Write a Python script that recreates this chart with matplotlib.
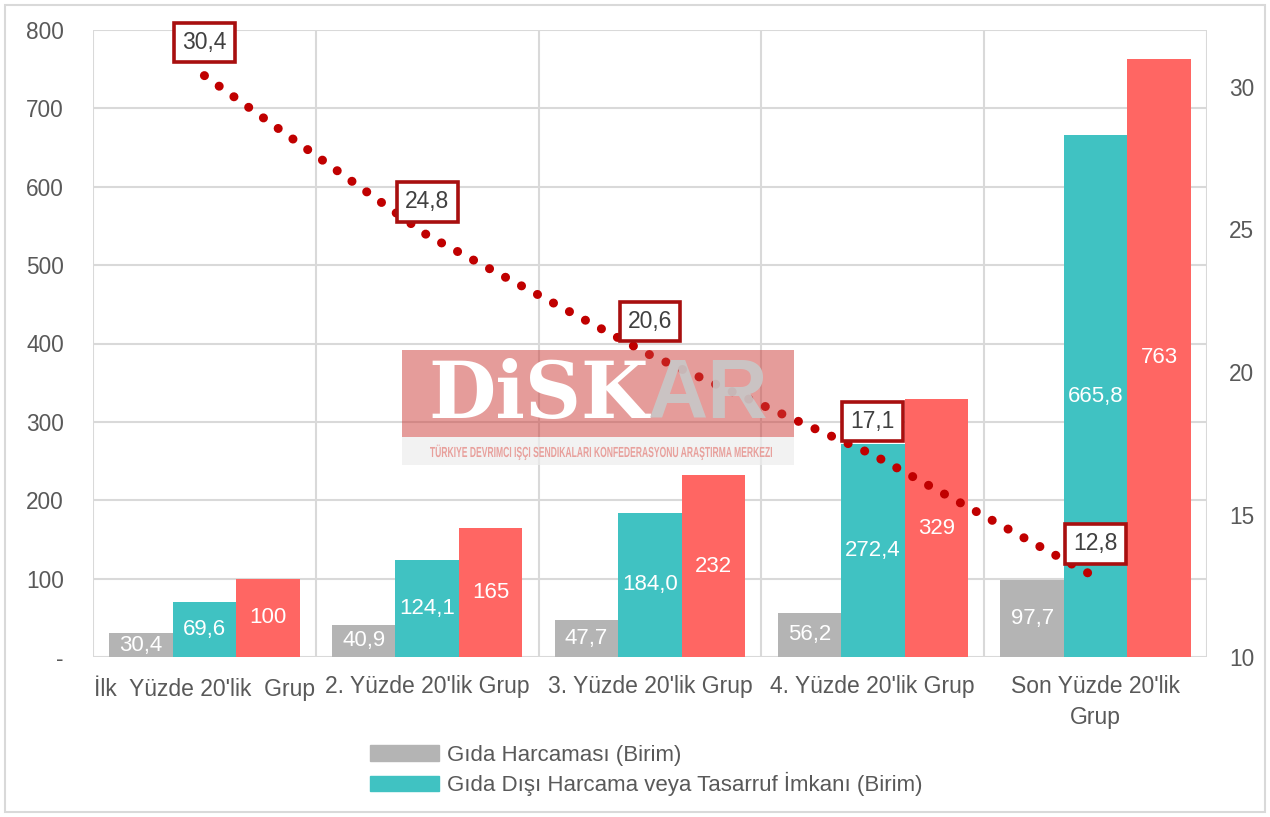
import matplotlib
matplotlib.use("Agg")
import matplotlib.pyplot as plt
import numpy as np
from matplotlib.patches import Rectangle, Patch, PathPatch
from matplotlib.textpath import TextPath
from matplotlib.font_manager import FontProperties
from matplotlib.transforms import Affine2D

plt.rcParams["font.family"] = ["Liberation Sans", "DejaVu Sans"]

categories = ["İlk  Yüzde 20'lik  Grup", "2. Yüzde 20'lik Grup", "3. Yüzde 20'lik Grup",
              "4. Yüzde 20'lik Grup", "Son Yüzde 20'lik\nGrup"]
gida = [30.4, 40.9, 47.7, 56.2, 97.7]
gida_disi = [69.6, 124.1, 184.0, 272.4, 665.8]
toplam = [100, 165, 232, 329, 763]
oran = [30.4, 24.8, 20.6, 17.1, 12.8]

left_ticks = [0, 100, 200, 300, 400, 500, 600, 700, 800]
left_labels = ["-", "100", "200", "300", "400", "500", "600", "700", "800"]
right_ticks = [10, 15, 20, 25, 30]

GRAY, TEAL, RED = "#B4B4B4", "#40C2C2", "#FF6663"
LINE, BOX = "#C00000", "#A80F0F"
TXT = "#595959"

def fmt(v):
    return f"{v:.1f}".replace(".", ",")

W, H = 1270, 817
fig = plt.figure(figsize=(W / 100, H / 100), dpi=100)
ax = fig.add_axes([93 / W, 1 - 657 / H, (1207 - 93) / W, (657 - 30) / H])

x = np.arange(len(categories))
bw = 0.285
b1 = ax.bar(x - bw, gida, bw, color=GRAY, zorder=2)
b2 = ax.bar(x, gida_disi, bw, color=TEAL, zorder=2)
b3 = ax.bar(x + bw, toplam, bw, color=RED, zorder=2)

for bars, vals, f in [(b1, gida, fmt), (b2, gida_disi, fmt), (b3, toplam, lambda v: f"{v:d}")]:
    for b, v in zip(bars, vals):
        ax.text(b.get_x() + b.get_width() / 2, v / 2, f(v), ha="center", va="center",
                color="white", fontsize=16, zorder=3)

ax.set_xlim(-0.5, len(categories) - 0.5)
ax.set_ylim(0, 800)
ax.set_yticks(left_ticks)
ax.set_yticklabels(left_labels)
ax.set_xticks(x)
ax.set_xticklabels(categories, fontsize=16.5, color=TXT, linespacing=1.45)
ax.set_xticks(np.arange(-0.5, len(categories)), minor=True)
ax.tick_params(axis="y", length=0, pad=21, labelsize=16.3, labelcolor=TXT)
ax.tick_params(axis="x", which="both", length=0, pad=13)
ax.grid(axis="y", color="#D9D9D9", lw=1.5, zorder=0)
ax.grid(axis="x", which="minor", color="#D9D9D9", lw=1.5, zorder=0)
for s in ax.spines.values():
    s.set_visible(False)

ax2 = ax.twinx()
ax2.set_ylim(10, 32)
ax2.set_yticks(right_ticks)
ax2.tick_params(axis="y", length=0, pad=16, labelsize=16.3, labelcolor=TXT)
for s in ax2.spines.values():
    s.set_visible(False)
ax2.plot(x, oran, color=LINE, lw=6.5, linestyle=(0, (0.01, 2.0)),
         dash_capstyle="round", zorder=4)
for xi, v in zip(x, oran):
    ax2.annotate(fmt(v), (xi, v), xytext=(0, 24), textcoords="offset points",
                 ha="center", va="center", fontsize=16.5, color="#404040", zorder=5,
                 bbox=dict(boxstyle="square,pad=0.36", fc="white", ec=BOX, lw=2.6))

# legend
handles = [Patch(color=GRAY, label="Gıda Harcaması (Birim)"),
           Patch(color=TEAL, label="Gıda Dışı Harcama veya Tasarruf İmkanı (Birim)")]
fig.legend(handles=handles, loc="upper left", bbox_to_anchor=(350 / W, 1 - 725 / H),
           frameon=False, fontsize=16, handlelength=3.1, handleheight=0.7,
           handletextpad=0.35, labelspacing=0.28, labelcolor=TXT)

# watermark
tf = fig.transFigure
fig.patches.append(Rectangle((402 / W, 1 - 437 / H), 392 / W, 87 / H, transform=tf,
                             facecolor="#CC3A36", alpha=0.5, zorder=10, lw=0))
fig.patches.append(Rectangle((402 / W, 1 - 465 / H), 392 / W, 28 / H, transform=tf,
                             facecolor="#EDEDED", alpha=0.7, zorder=10, lw=0))
fig.text(428 / W, 1 - 396 / H, "DiSK", transform=tf, fontsize=56, fontweight="bold",
         family="DejaVu Serif", color="white", va="center", ha="left", zorder=11)
fig.text(648 / W, 1 - 396 / H, "AR", transform=tf, fontsize=60, fontweight="bold",
         color="#C8C8C8", alpha=0.9, va="center", ha="left", zorder=11)

# small condensed subtitle of the logo, squeezed into its box
sub = "TÜRKIYE DEVRIMCI IŞÇI SENDIKALARI KONFEDERASYONU ARAŞTIRMA MERKEZI"
tp = TextPath((0, 0), sub, size=10, prop=FontProperties(family="Liberation Sans", weight="bold"))
bb = tp.get_extents()
sx, sy = 342 / bb.width, 10.5 / 7.2
tpath = Affine2D().translate(-bb.x0, 0).scale(sx, sy).translate(430, H - 457).transform_path(tp)
fig.patches.append(PathPatch(tpath, transform=None, fc="#E8A09C", ec="none", zorder=11))

# chart border
fig.patches.append(Rectangle((5 / W, 5 / H), 1260 / W, 807 / H, transform=tf,
                             fill=False, ec="#D9D9D9", lw=1.5, zorder=12))

fig.savefig("out.png", dpi=100)
